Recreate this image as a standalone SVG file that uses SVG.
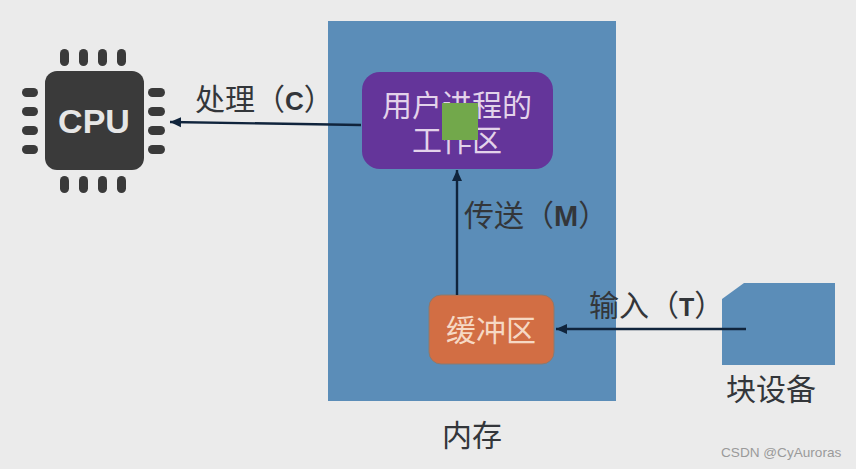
<svg xmlns="http://www.w3.org/2000/svg" width="856" height="469" viewBox="0 0 856 469">
<style>
.t{font-family:"Noto Sans CJK SC","Liberation Sans",sans-serif;font-size:30px;fill:#33363a}
.w{font-family:"Noto Sans CJK SC","Liberation Sans",sans-serif;font-size:30px;text-anchor:middle}
.l{font-family:"Liberation Sans",sans-serif;font-weight:700}
.pin{fill:#3a3a3a}
.c{stroke:#10243c;stroke-width:2.4;fill:none;marker-end:url(#a)}
</style>
<defs>
<marker id="a" markerUnits="userSpaceOnUse" markerWidth="12" markerHeight="12" refX="11" refY="6" orient="auto"><path d="M11 6L0 1V11Z" fill="#10243c"/></marker>
</defs>
<rect width="856" height="469" fill="#ebebeb"/>
<g id="memory"><rect x="328" y="21" width="288" height="380" fill="#5b8db8"/><text class="t" x="442" y="446">内存</text></g>
<g id="cpu">
<rect x="45" y="71" width="99" height="99" rx="12" fill="#3a3a3a"/>
<g class="pin">
<rect x="60" y="49" width="9" height="17" rx="4.5"/><rect x="79" y="49" width="9" height="17" rx="4.5"/><rect x="98" y="49" width="9" height="17" rx="4.5"/><rect x="117" y="49" width="9" height="17" rx="4.5"/>
<rect x="60" y="176" width="9" height="17" rx="4.5"/><rect x="79" y="176" width="9" height="17" rx="4.5"/><rect x="98" y="176" width="9" height="17" rx="4.5"/><rect x="117" y="176" width="9" height="17" rx="4.5"/>
<rect x="22" y="88" width="16" height="9" rx="4.5"/><rect x="22" y="107" width="16" height="9" rx="4.5"/><rect x="22" y="126" width="16" height="9" rx="4.5"/><rect x="22" y="145" width="16" height="9" rx="4.5"/>
<rect x="148" y="88" width="17" height="9" rx="4.5"/><rect x="148" y="107" width="17" height="9" rx="4.5"/><rect x="148" y="126" width="17" height="9" rx="4.5"/><rect x="148" y="145" width="17" height="9" rx="4.5"/>
</g>
<text x="94" y="133" text-anchor="middle" font-family="Liberation Sans,sans-serif" font-weight="700" font-size="34" fill="#e6e6e6">CPU</text>
</g>
<g id="workspace">
<rect x="362" y="72" width="191" height="97" rx="18" fill="#64359a"/>
<text class="w" x="457" y="116" fill="#e3d3ea">用户进程的</text>
<text class="w" x="457" y="151" fill="#e3d3ea">工作区</text>
<rect x="442" y="103" width="36" height="37" fill="#72a84b"/>
</g>
<g id="buffer">
<rect x="429" y="295" width="125" height="69" rx="12" fill="#d26e44" stroke="#8a7a70" stroke-width="1"/>
<text class="w" x="491" y="341" fill="#f6d9c4">缓冲区</text>
</g>
<g id="device">
<path d="M722 299L744 283H835V365H722Z" fill="#5b8db8"/>
<text class="t" x="726" y="400">块设备</text>
</g>
<g id="connectors">
<path class="c" d="M361 125L170 122"/>
<path class="c" d="M457 295V170"/>
<path class="c" d="M746 329H556"/>
</g>
<g id="labels">
<text class="t" x="195" y="110">处理（<tspan class="l" font-size="26">C</tspan>）</text>
<text class="t" x="464" y="226">传送（<tspan class="l" font-size="29">M</tspan>）</text>
<text class="t" x="589" y="316">输入（<tspan class="l" font-size="25">T</tspan>）</text>
<text x="721" y="457" font-family="Liberation Sans,sans-serif" font-size="13.6" fill="#9a9a9a">CSDN @CyAuroras</text>
</g>
</svg>
